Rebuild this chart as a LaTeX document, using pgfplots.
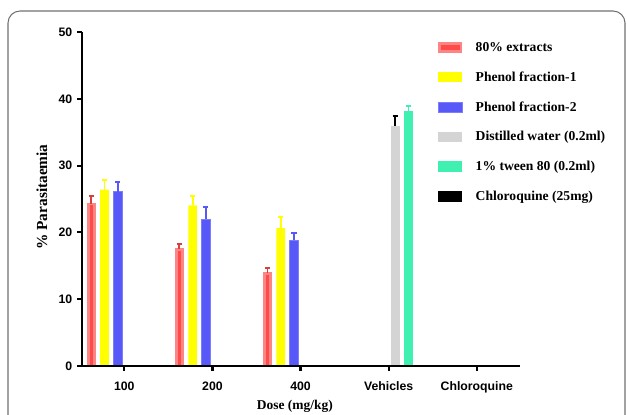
\documentclass[border=0pt]{standalone}
\usepackage{fontspec}
\setmainfont{Liberation Serif}
\setsansfont{Liberation Sans}
\usepackage{pgfplots}
\pgfplotsset{compat=1.18}
\definecolor{redfill}{HTML}{FF4A4A}
\definecolor{redborder}{HTML}{FF8585}
\definecolor{yel}{HTML}{FFFF00}
\definecolor{bluefill}{HTML}{5858F8}
\definecolor{blueborder}{HTML}{7C7CFF}
\definecolor{greyfill}{HTML}{D4D4D4}
\definecolor{greenfill}{HTML}{40F0B0}
\definecolor{frame}{HTML}{707070}
\pgfplotsset{
  mybar/.style={ybar, bar width=6.5pt, bar shift=0pt,
    error bars/y dir=plus, error bars/y explicit, error bars/error mark=-,
    error bars/error bar style={line width=1.4pt, draw=#1},
    error bars/error mark options={rotate=90, line width=1.4pt, draw=#1, mark size=2pt}},
  legfill/.style={legend image code/.code={\fill[#1] (0pt,-4pt) rectangle (18pt,4pt);}},
}
\begin{document}
\begin{tikzpicture}[x=1pt,y=1pt]
\clip (0,0) rectangle (470.25,310.5);
\draw[frame, line width=0.8pt, rounded corners=9pt] (6,-30) rectangle (468.75,302.25);
\begin{axis}[
  at={(61.5pt,36pt)}, anchor=south west,
  scale only axis, width=328.5pt, height=250.5pt,
  xmin=-0.48, xmax=4.49, ymin=0, ymax=50,
  axis x line*=bottom, axis y line*=left,
  axis line style={line width=1.6pt, black},
  xtick={0,1,2,3,4},
  xticklabels={100,200,400,Vehicles,Chloroquine},
  ytick={0,10,20,30,40,50},
  tick align=outside, major tick length=3.75pt,
  every tick/.style={black, line width=1.6pt},
  tick label style={font=\sffamily\bfseries\fontsize{9.2}{11}\selectfont},
  /pgf/number format/assume math mode=true,
  xticklabel style={yshift=-4.5pt},
  xlabel={Dose (mg/kg)},
  xlabel style={at={(axis description cs:0.486,-0.12)}, anchor=center, font=\bfseries\fontsize{10.1}{12}\selectfont},
  ylabel={\% Parasitaemia},
  ylabel style={at={(axis description cs:-0.0913,0.506)}, anchor=center, font=\bfseries\fontsize{11.5}{13}\selectfont},
  axis on top=true,
  legend cell align=left,
  legend style={at={(0.813,0.979)}, anchor=north west, draw=none, fill=none,
    inner sep=0pt, row sep=10.4pt,
    font=\bfseries\fontsize{10.2}{12}\selectfont,
    nodes={inner sep=1pt, text height=8pt, text depth=2pt},
    /tikz/every odd column/.append style={column sep=9pt}},
]
\addplot[mybar=redfill!85!black, fill=redfill, draw=redborder, line width=2.2pt, bar width=4.3pt,
  legend image code/.code={\draw[fill=redfill, draw=redborder, line width=2pt] (1pt,-3pt) rectangle (17pt,3pt);}]
  coordinates {(-0.375,24.25) +- (0,1.15) (0.625,17.5) +- (0,0.7) (1.625,13.9) +- (0,0.8)};
\addlegendentry{80\% extracts}
\addplot[mybar=yel, fill=yel, draw=none, legfill=yel]
  coordinates {(-0.225,26.4) +- (0,1.4) (0.775,24.05) +- (0,1.35) (1.775,20.65) +- (0,1.6)};
\addlegendentry{Phenol fraction-1}
\addplot[mybar=bluefill, fill=bluefill, draw=blueborder, line width=0.5pt,
  legend image code/.code={\draw[fill=bluefill, draw=blueborder, line width=0.6pt] (0.3pt,-3.7pt) rectangle (17.7pt,3.7pt);}]
  coordinates {(-0.075,26.1) +- (0,1.5) (0.925,21.95) +- (0,1.8) (1.925,18.8) +- (0,1.15)};
\addlegendentry{Phenol fraction-2}
\addplot[mybar=black, fill=greyfill, draw=none, legfill=greyfill]
  coordinates {(3.075,36.0) +- (0,1.4)};
\addlegendentry{Distilled water (0.2ml)}
\addplot[mybar=greenfill, fill=greenfill, draw=none, legfill=greenfill]
  coordinates {(3.225,38.2) +- (0,0.75)};
\addlegendentry{1\% tween 80 (0.2ml)}
\addplot[ybar, bar width=6.5pt, bar shift=0pt, fill=black, draw=none, legfill=black]
  coordinates {(4.375,0)};
\addlegendentry{Chloroquine (25mg)}
\end{axis}
\end{tikzpicture}
\end{document}
